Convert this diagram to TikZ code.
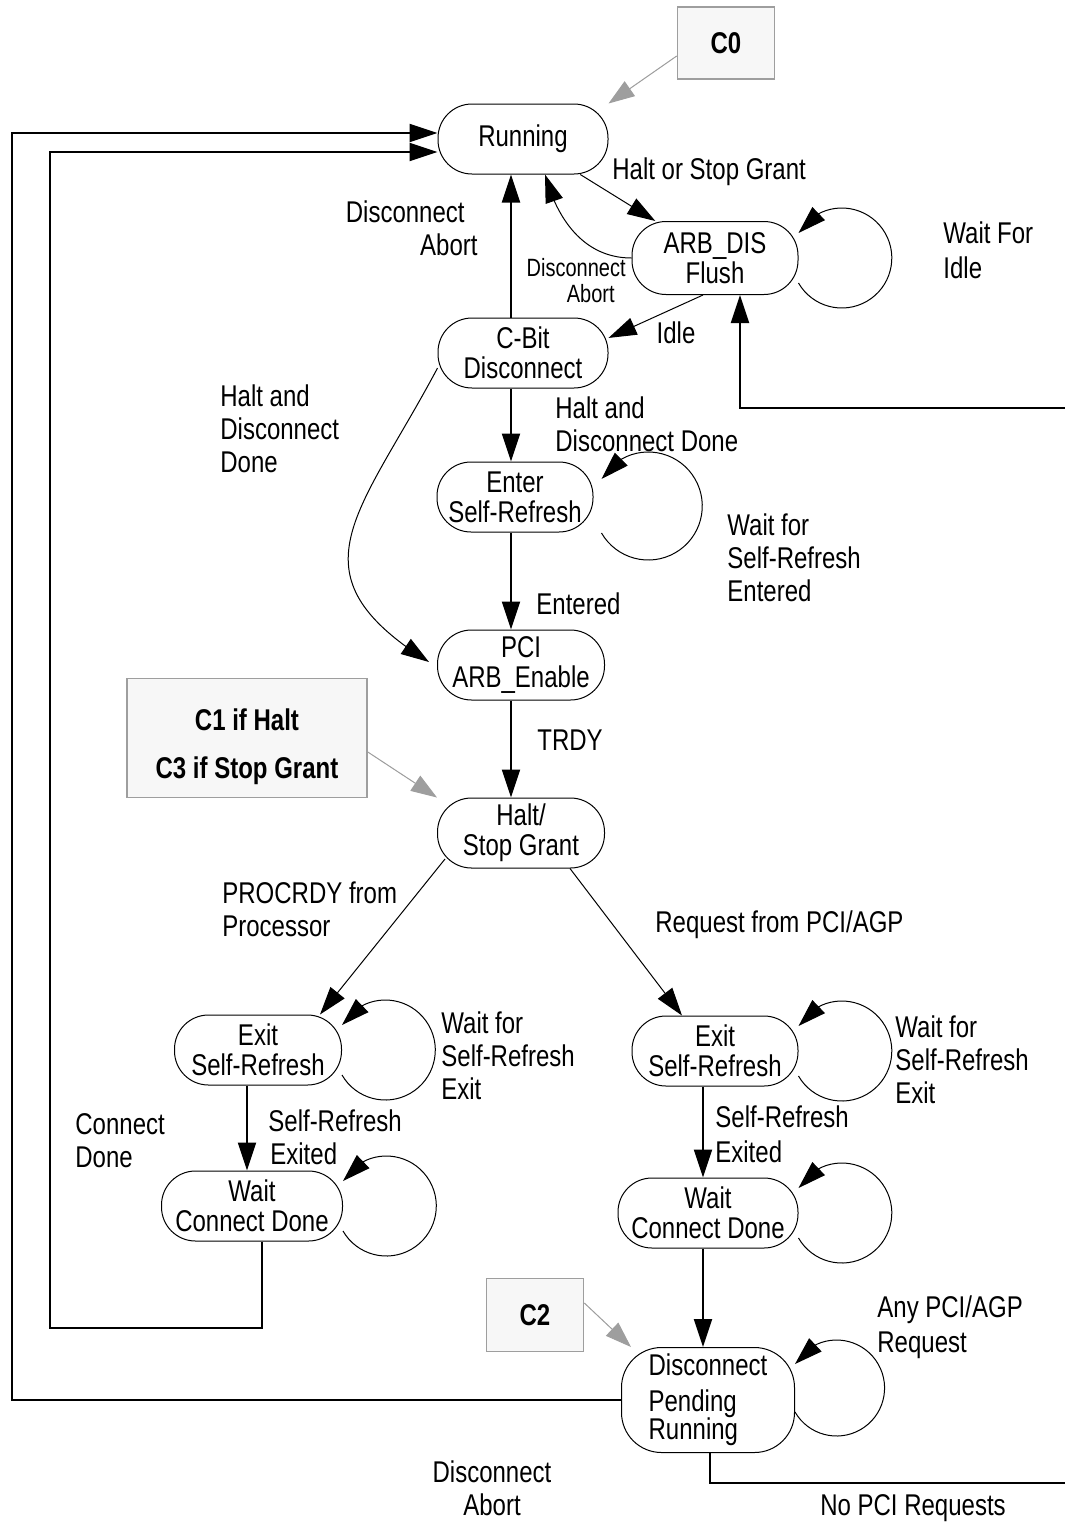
\documentclass[tikz,border=0pt]{standalone}
\usepackage{fontspec}
\setmainfont{Liberation Sans}[FakeStretch=0.8]
\usetikzlibrary{arrows.meta, bending, positioning}

\begin{document}
\begin{tikzpicture}[x=0.5pt, y=-0.5pt,
    state/.style={draw, line width=0.5pt, rounded corners=17pt, align=center,
        inner sep=1pt, minimum height=35pt, font=\fontsize{15}{15}\selectfont},
    note/.style={draw=black!38, fill=black!3, line width=0.8pt, align=center,
        font=\bfseries\fontsize{15}{24}\selectfont},
    lbl/.style={align=left, anchor=west, inner sep=0pt, font=\fontsize{15}{16.5}\selectfont},
    small/.style={align=right, inner sep=0pt, font=\fontsize{12.5}{13}\selectfont},
    tr/.style={-{Triangle[length=14pt,width=9pt]}, line width=0.5pt},
    trb/.style={-{Triangle[length=14pt,width=9pt]}, line width=1pt},
    hint/.style={-{Triangle[length=13pt,width=9pt]}, draw=black!38, fill=black!38, line width=0.5pt}]
    \useasboundingbox (0,0) rectangle (1065,1526);

    % States
    \node[state, minimum width=85pt] (run) at (523,139) {Running};
    \node[state, minimum width=83pt, minimum height=36.5pt] (arb) at (715,258) {ARB\_DIS\\Flush};
    \node[state, minimum width=85pt] (cbit) at (523,353) {C-Bit\\Disconnect};
    \node[state, minimum width=78pt] (enter) at (515,497) {Enter\\Self-Refresh};
    \node[state, minimum width=83.5pt] (pci) at (521,665) {PCI\\ARB\_Enable};
    \node[state, minimum width=83.5pt] (halt) at (521,833) {Halt/\\Stop Grant};
    \node[state, minimum width=83.5pt] (exitl) at (258,1050) {Exit\\Self-Refresh};
    \node[state, minimum width=90.5pt] (waitl) at (252,1206) {Wait\\Connect Done};
    \node[state, minimum width=83pt] (exitr) at (715,1051) {Exit\\Self-Refresh};
    \node[state, minimum width=90pt] (waitr) at (708,1213) {Wait\\Connect Done};
    \node[draw, line width=0.5pt, rounded corners=20pt, minimum width=86.5pt, minimum height=52.5pt,
        align=left, inner sep=1pt, font=\fontsize{15}{14}\selectfont] (dpr) at (708,1400)
        {Disconnect\\[4pt]Pending\\Running};

    % Power state notes
    \node[note, minimum width=48.5pt, minimum height=36pt] (c0) at (726,43) {C0};
    \node[note, minimum width=120pt, minimum height=59.5pt,
        label={[yshift=-4.5pt, align=center, font=\bfseries\fontsize{15}{24}\selectfont]center:C1 if Halt\\C3 if Stop Grant}]
        (c13) at (247,738) {};
    \node[note, minimum width=48.5pt, minimum height=36.5pt] (c2) at (535,1315) {C2};

    \draw[hint] ([yshift=-6.5pt]c0.west) -- (run.north east);
    \draw[hint] ([yshift=-7pt]c13.east) -- (halt.north west);
    \draw[hint] ([yshift=6pt]c2.east) -- ([xshift=5pt]dpr.north west);

    % Transitions
    \draw[tr] (run) -- (arb);
    \draw[tr] (arb.west) to[out=180, in=-75] ([xshift=11pt]run.south);
    \draw[trb] ([xshift=-6pt]cbit.north) -- ([xshift=-6pt]cbit.north |- run.south);
    \draw[tr] ([xshift=-6pt]arb.south) -- (cbit.10);
    \draw[trb] ([xshift=-6pt]cbit.south) -- ([xshift=-6pt]cbit.south |- enter.north);
    \draw[tr] (cbit.190) to[out=-118, in=148, looseness=1.45] ([xshift=-4pt,yshift=1.5pt]pci.west);
    \draw[trb] ([xshift=-2pt]enter.south) -- ([xshift=-2pt]enter.south |- pci.north);
    \draw[trb] ([xshift=-5pt]pci.south) -- ([xshift=-5pt]pci.south |- halt.north);
    \draw[tr] ([shift={(-38pt,-13pt)}]halt.center) -- ([xshift=31pt]exitl.north);
    \draw[tr] ([xshift=24.5pt]halt.south) -- ([xshift=-16.5pt]exitr.north);
    \draw[trb] ([xshift=-5.5pt]exitl.south) -- ([xshift=-5.5pt]exitl.south |- waitl.north);
    \draw[trb] ([xshift=-6pt]exitr.south) -- ([xshift=-6pt]exitr.south |- waitr.north);
    \draw[trb] ([xshift=-2.5pt]waitr.south) -- ([xshift=-2.5pt]waitr.south |- dpr.north);

    % Self loops
    \foreach \n/\r/\dx/\dy in {arb/25pt/0pt/0pt, enter/27pt/4pt/-4.5pt, exitl/25pt/0pt/0pt,
        waitl/25pt/0pt/0pt, exitr/25pt/0pt/0pt, waitr/25pt/0pt/0pt, dpr/24pt/0pt/6pt}
        \draw[tr] ([shift={(\dx,\dy-\r/2)}]\n.east) arc[start angle=210, end angle=510, radius=\r];

    % Return paths
    \draw[trb] ([xshift=5pt]waitl.south) |- (50,1328) |- ([yshift=-6.5pt]run.west);
    \draw[trb] (dpr.west) -| (12,133) -- ([yshift=3pt]run.west);
    \coordinate (offa) at (1065,408);
    \coordinate (offb) at (1065,1483);
    \draw[trb] (offa) -| ([xshift=12.5pt]arb.south);
    \draw[line width=1pt] ([xshift=1pt]dpr.south) |- (offb);

    % Labels
    \node[lbl] (lhsg) at (612,172) {Halt or Stop Grant};
    \node[lbl, align=right, anchor=east] (lab1) at (478,228) {Disconnect\hspace*{6.5pt}\\Abort};
    \node[small, anchor=east] (lab2) at (626,281) {Disconnect\\Abort\hspace*{5.5pt}};
    \node[lbl, anchor=center] (lidle) at (676,333) {Idle};
    \node[lbl] (lwfi) at (943,250) {Wait For\\[1pt]Idle};
    \node[lbl] (lhdd1) at (555,424) {Halt and\\Disconnect Done};
    \node[lbl] (lhdd2) at (220,429) {Halt and\\Disconnect\\Done};
    \node[lbl] (lwse) at (727,558) {Wait for\\Self-Refresh\\Entered};
    \node[lbl] (lent) at (536,604) {Entered};
    \node[lbl] (ltrdy) at (537,740) {TRDY};
    \node[lbl] (lproc) at (222,909) {PROCRDY from\\Processor};
    \node[lbl] (lreq) at (655,925) {Request from PCI/AGP};
    \node[lbl] (lwsx1) at (441,1056) {Wait for\\Self-Refresh\\Exit};
    \node[lbl] (lsre1) at (268,1137) {Self-Refresh\\\hspace*{1pt}Exited};
    \node[lbl] (lcd) at (75,1141) {Connect\\Done};
    \node[lbl] (lwsx2) at (895,1060) {Wait for\\Self-Refresh\\Exit};
    \node[lbl] (lsre2) at (715,1134) {Self-Refresh\\[1pt]Exited};
    \node[lbl] (lany) at (877,1327) {Any PCI/AGP\\[1pt]Request};
    \node[lbl, align=center, anchor=center] (lab3) at (492,1488) {Disconnect\\Abort};
    \node[lbl, anchor=center] (lnopci) at (913,1508) {No PCI Requests};
\end{tikzpicture}
\end{document}
